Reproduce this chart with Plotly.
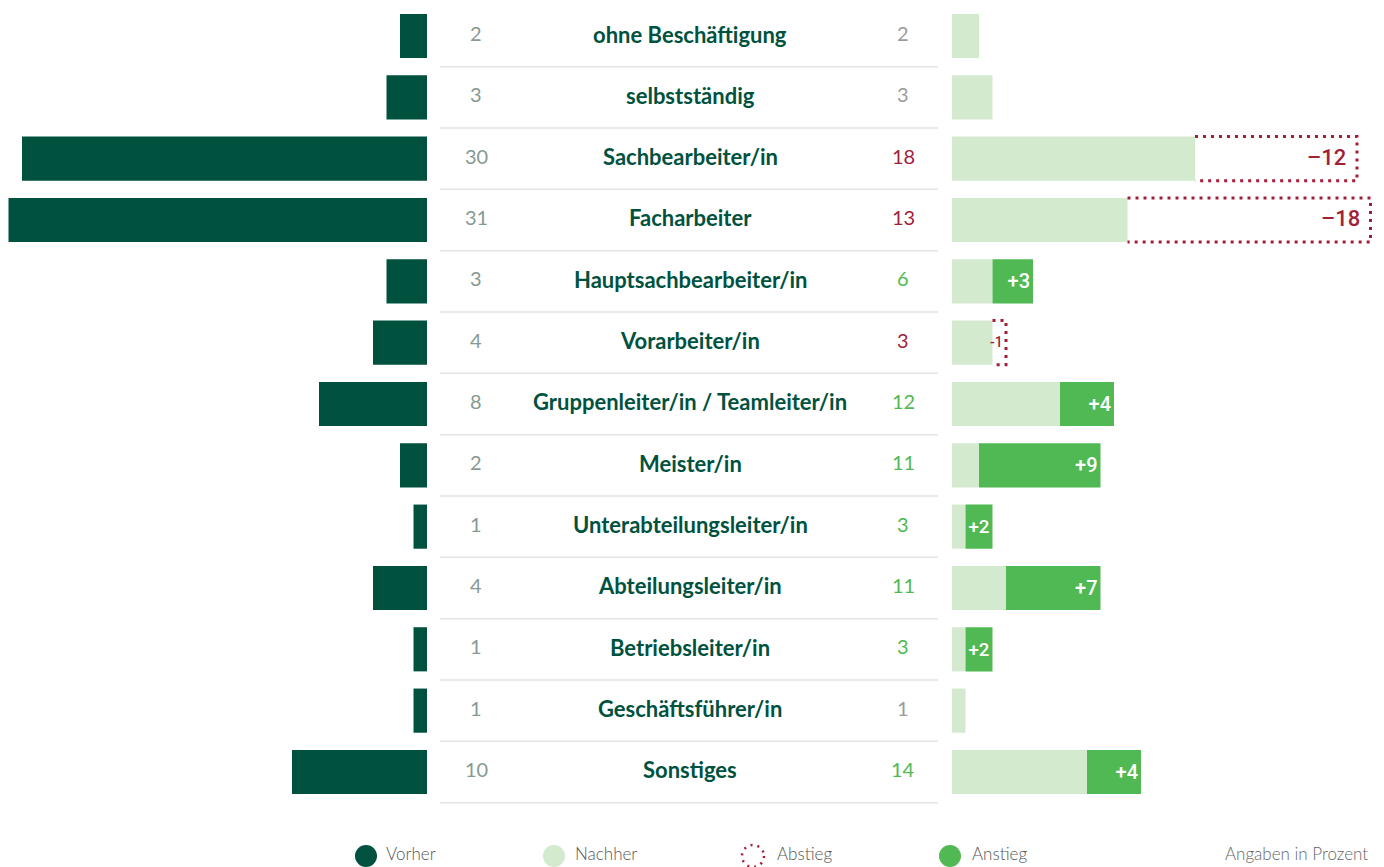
import plotly.graph_objects as go

categories = ["ohne Beschäftigung", "selbstständig", "Sachbearbeiter/in", "Facharbeiter",
              "Hauptsachbearbeiter/in", "Vorarbeiter/in", "Gruppenleiter/in / Teamleiter/in",
              "Meister/in", "Unterabteilungsleiter/in", "Abteilungsleiter/in",
              "Betriebsleiter/in", "Geschäftsführer/in", "Sonstiges"]
vorher = [2, 3, 30, 31, 3, 4, 8, 2, 1, 4, 1, 1, 10]
nachher = [2, 3, 18, 13, 6, 3, 12, 11, 3, 11, 3, 1, 14]
legend_labels = ["Vorher", "Nachher", "Abstieg", "Anstieg"]
note = "Angaben in Prozent"

W, H = 1384, 867
DARK = "#00523f"
LIGHT = "#d3eacf"
GREEN = "#51b953"
RED = "#a21f38"
GRAY_L = "#879a91"
GRAY_R = "#9a9c9c"
LINE = "#e2e2e2"

PXU = 13.5        # pixels per percent
LEFT_END = 427
RIGHT_START = 952
ROW0 = 36
PITCH = 61.33
BW = 0.72

n = len(categories)
ys = list(range(n))

base_len = [min(v, a) for v, a in zip(vorher, nachher)]
inc = [a - v if a > v else None for v, a in zip(vorher, nachher)]
inc_txt = [f"+{a - v}" if a > v else "" for v, a in zip(vorher, nachher)]

fig = go.Figure()
fig.add_trace(go.Bar(y=ys, x=vorher, orientation="h", xaxis="x", yaxis="y",
                     marker=dict(color=DARK, line=dict(width=0)), width=BW,
                     name=legend_labels[0], showlegend=False, hoverinfo="skip"))
fig.add_trace(go.Bar(y=ys, x=base_len, orientation="h", xaxis="x2", yaxis="y",
                     marker=dict(color=LIGHT, line=dict(width=0)), width=BW,
                     name=legend_labels[1], showlegend=False, hoverinfo="skip"))
fig.add_trace(go.Bar(y=ys, x=inc, base=vorher, orientation="h", xaxis="x2", yaxis="y",
                     marker=dict(color=GREEN, line=dict(width=0)), width=BW,
                     text=inc_txt, textposition="inside", insidetextanchor="end",
                     textangle=0,
                     textfont=dict(color="white", size=20, family="Roboto", weight=500),
                     name=legend_labels[3], showlegend=False, hoverinfo="skip"))

shapes = []
annotations = []
h = BW / 2
for i, (v, a) in enumerate(zip(vorher, nachher)):
    if a < v:
        shapes.append(dict(type="path", xref="x2", yref="y",
                           path=f"M {a},{i - h} L {v},{i - h} L {v},{i + h} L {a},{i + h}",
                           line=dict(color=RED, width=3, dash="3px,5px")))
        big = (v - a) >= 5
        annotations.append(dict(xref="x2", yref="y", x=v, y=i,
                                text=(f"–{v - a}" if big else f"-{v - a}"),
                                xanchor="right", yanchor="middle",
                                xshift=-9 if big else -1, yshift=1, showarrow=False,
                                font=dict(family="Roboto", size=22 if big else 14,
                                          color=RED, weight=500)))
    # separator line below each row
    shapes.append(dict(type="line", xref="paper", yref="y", x0=440 / W, x1=938 / W,
                       y0=i + 0.5, y1=i + 0.5, line=dict(color=LINE, width=1.5)))
    # columns
    annotations.append(dict(xref="paper", yref="y", x=476 / W, y=i, text=str(v),
                            showarrow=False, xanchor="center", yanchor="middle", yshift=3,
                            font=dict(family="Lato", size=20, color=GRAY_L)))
    rc = RED if a < v else (GREEN if a > v else GRAY_R)
    annotations.append(dict(xref="paper", yref="y", x=903 / W, y=i, text=str(a),
                            showarrow=False, xanchor="center", yanchor="middle", yshift=3,
                            font=dict(family="Lato", size=20, color=rc)))
    annotations.append(dict(xref="paper", yref="y", x=690 / W, y=i, text=categories[i],
                            showarrow=False, xanchor="center", yanchor="middle", yshift=2,
                            font=dict(family="Lato", size=22, color=DARK, weight="bold")))

# legend
ly = 856
leg = [(366, 384, dict(fillcolor=DARK, line=dict(width=0))),
       (554, 573, dict(fillcolor=LIGHT, line=dict(width=0))),
       (753, 775, dict(fillcolor="rgba(0,0,0,0)", line=dict(color=RED, width=2.5, dash="2px,5px"))),
       (950, 970, dict(fillcolor=GREEN, line=dict(width=0)))]
for (cx, tx, style), lab in zip(leg, legend_labels):
    r = 11
    shapes.append(dict(type="circle", xref="paper", yref="paper",
                       x0=(cx - r) / W, x1=(cx + r) / W,
                       y0=1 - (ly + r) / H, y1=1 - (ly - r) / H, **style))
    annotations.append(dict(xref="paper", yref="paper", x=tx / W, y=1 - 853 / H,
                            text=lab, showarrow=False, xanchor="left", yanchor="middle",
                            font=dict(family="Lato", size=17, color="#555555", weight=300)))
annotations.append(dict(xref="paper", yref="paper", x=1370 / W, y=1 - 853 / H,
                        text=note, showarrow=False, xanchor="right", yanchor="middle",
                        font=dict(family="Lato", size=17, color="#666666", weight=300)))

ax = dict(visible=False, showgrid=False, zeroline=False, fixedrange=True)
fig.update_layout(
    width=W, height=H, margin=dict(l=0, r=0, t=0, b=0),
    paper_bgcolor="white", plot_bgcolor="white",
    barmode="overlay", showlegend=False,
    xaxis=dict(domain=[0, LEFT_END / W], range=[LEFT_END / PXU, 0], anchor="y", **ax),
    xaxis2=dict(domain=[RIGHT_START / W, 1], range=[0, (W - RIGHT_START) / PXU], anchor="y", **ax),
    yaxis=dict(domain=[0, 1], range=[(H - ROW0) / PITCH, -ROW0 / PITCH], **ax),
    shapes=shapes, annotations=annotations,
    uniformtext=dict(mode=False),
)

fig.write_html("out.html", config={"displayModeBar": False},
               post_script="document.body.style.margin='0';")
